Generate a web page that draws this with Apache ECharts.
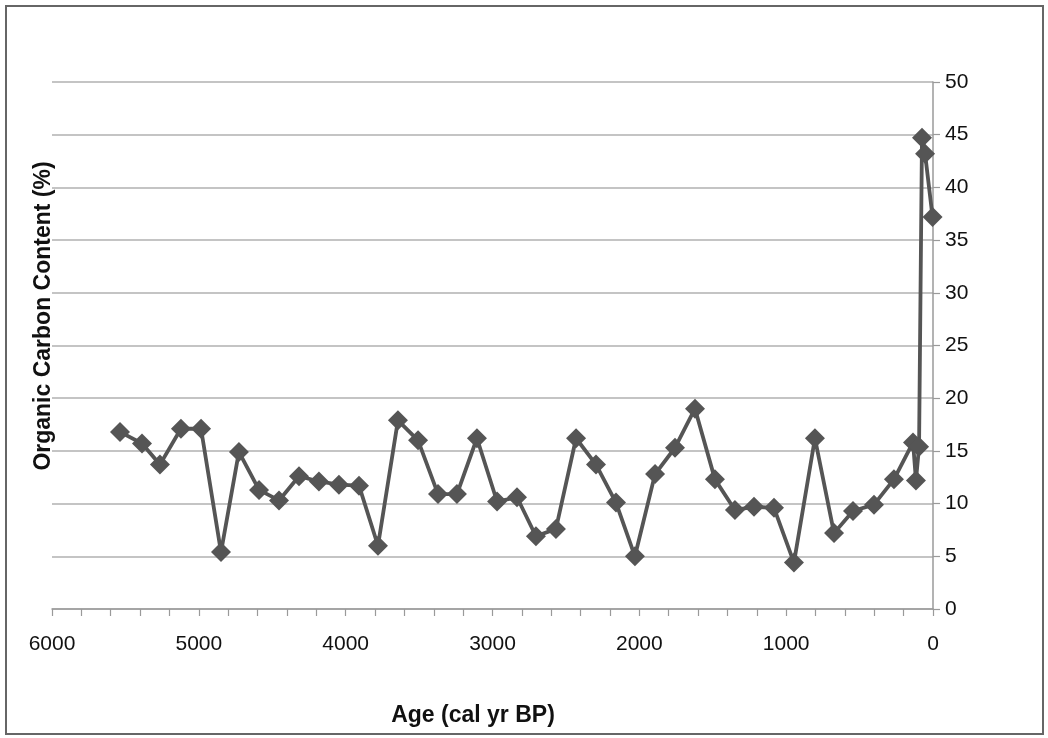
<!DOCTYPE html>
<html>
<head>
<meta charset="utf-8">
<script src="https://cdn.jsdelivr.net/npm/echarts@6/dist/echarts.min.js"></script>
<style>
html,body{margin:0;padding:0;background:#fff;}
#chart{width:1048px;height:738px;}
</style>
</head>
<body>
<div id="chart"></div>
<script>
// Age (cal yr BP)
var ages = [5537,5387,5265,5122,4985,4849,4727,4590,4454,4318,4182,4046,3909,3780,3644,3507,3371,3242,3106,2969,2833,2704,2568,2431,2295,2159,2030,1893,1757,1621,1485,1349,1219,1083,947,804,674,545,402,266,136,116,95,75,54,3];
// Organic carbon content (%)
var carbon = [16.8,15.7,13.7,17.1,17.1,5.4,14.9,11.3,10.3,12.6,12.1,11.8,11.7,6.0,17.9,16.0,10.9,10.9,16.2,10.2,10.6,6.9,7.6,16.2,13.7,10.1,5.0,12.8,15.3,19.0,12.3,9.4,9.7,9.6,4.4,16.2,7.2,9.3,9.9,12.3,15.8,12.2,15.4,44.7,43.2,37.2];
var xTitle = 'Age (cal yr BP)';
var yTitle = 'Organic Carbon Content (%)';

var points = ages.map(function(a, i){ return [a, carbon[i]]; });
var font = '"Liberation Sans", Arial, sans-serif';
var chart = echarts.init(document.getElementById('chart'));
chart.setOption({
  animation: false,
  backgroundColor: '#fff',
  grid: {left: 52, right: 115, top: 82, bottom: 129, containLabel: false},
  xAxis: {
    type: 'value', inverse: true, min: 0, max: 6000, interval: 200,
    axisLine: {show: true, lineStyle: {color: '#9a9a9a', width: 1.5}},
    axisTick: {show: true, inside: false, length: 7, lineStyle: {color: '#9a9a9a', width: 1.2}},
    axisLabel: {
      margin: 25, color: '#111', fontFamily: font, fontSize: 21,
      formatter: function(v){ return v % 1000 === 0 ? String(v) : ''; }
    },
    splitLine: {show: false}
  },
  yAxis: {
    type: 'value', position: 'right', min: 0, max: 50, interval: 5,
    axisLine: {show: true, lineStyle: {color: '#9a9a9a', width: 1.5}},
    axisTick: {show: true, inside: false, length: 7, lineStyle: {color: '#9a9a9a', width: 1.2}},
    axisLabel: {margin: 12, color: '#111', fontFamily: font, fontSize: 21},
    splitLine: {show: true, lineStyle: {color: '#b0b0b0', width: 1.5}}
  },
  series: [{
    type: 'line', data: points,
    symbol: 'diamond', symbolSize: 20,
    lineStyle: {color: '#555555', width: 3.8},
    itemStyle: {color: '#555555'}
  }],
  graphic: [
    {type: 'rect', shape: {x: 6, y: 6, width: 1037, height: 728},
     style: {fill: 'none', stroke: '#666', lineWidth: 2}, silent: true},
    {type: 'text', x: 473, y: 716,
     style: {text: xTitle, font: 'bold 23px ' + font, fill: '#111', align: 'center', verticalAlign: 'middle'}},
    {type: 'text', x: 44, y: 316, rotation: Math.PI / 2,
     style: {text: yTitle, font: 'bold 23px ' + font, fill: '#111', align: 'center', verticalAlign: 'middle'}}
  ]
});
</script>
</body>
</html>
